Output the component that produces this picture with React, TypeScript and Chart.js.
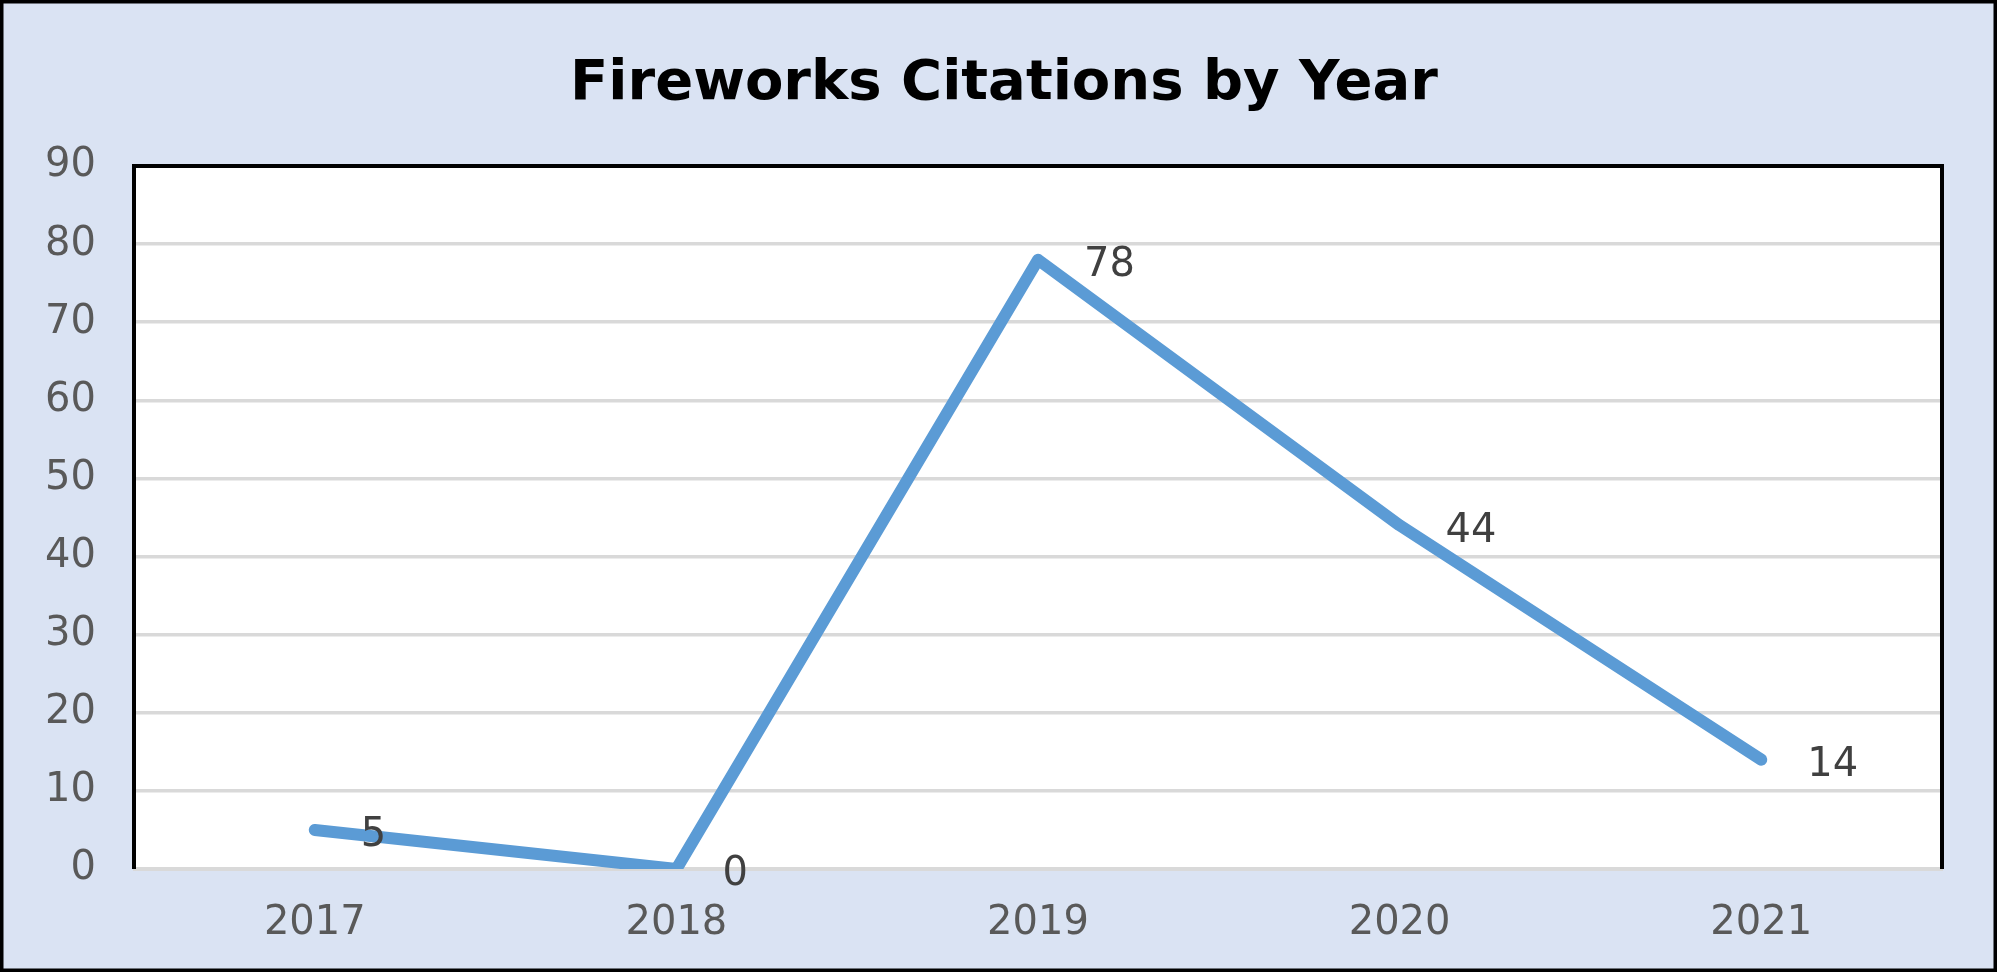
import React, { useEffect, useRef } from "react";
import { Chart, registerables } from "chart.js";

Chart.register(...registerables);

const categories = ["2017", "2018", "2019", "2020", "2021"];
const citations = [5, 0, 78, 44, 14];
const titleText = "Fireworks Citations by Year";
const yMax = 90;
const yStep = 10;

const W = 1997;
const H = 972;
const PLOT = { left: 134, top: 166, right: 1942, bottom: 869 };
const TICK_FONT = "'DejaVu Sans', sans-serif";

const frame = {
  id: "frame",
  beforeDraw(chart: any) {
    const ctx = chart.ctx;
    ctx.save();
    ctx.fillStyle = "#DAE3F3";
    ctx.fillRect(0, 0, W, H);
    const a = chart.chartArea;
    ctx.fillStyle = "#FFFFFF";
    ctx.fillRect(a.left, a.top, a.right - a.left, a.bottom - a.top);
    ctx.restore();
  },
  afterDraw(chart: any) {
    const ctx = chart.ctx;
    const a = chart.chartArea;
    ctx.save();
    ctx.strokeStyle = "#000000";
    ctx.lineWidth = 4;
    ctx.beginPath();
    ctx.moveTo(a.left, a.bottom);
    ctx.lineTo(a.left, a.top);
    ctx.lineTo(a.right, a.top);
    ctx.lineTo(a.right, a.bottom);
    ctx.stroke();
    ctx.lineWidth = 4;
    ctx.strokeRect(1.5, 1.5, W - 3, H - 3);
    ctx.fillStyle = "#000000";
    ctx.font = "bold 56px 'DejaVu Sans', sans-serif";
    ctx.textAlign = "center";
    ctx.textBaseline = "middle";
    ctx.fillText(titleText, 1004, 84);
    // data labels
    const meta = chart.getDatasetMeta(0);
    ctx.fillStyle = "#404040";
    ctx.font = "40px " + TICK_FONT;
    ctx.textAlign = "left";
    meta.data.forEach((pt: any, i: number) => {
      ctx.fillText(String(citations[i]), pt.x + 46, pt.y + 6);
    });
    ctx.restore();
  },
};

export default function App() {
  const ref = useRef<HTMLCanvasElement | null>(null);
  useEffect(() => {
    document.body.style.margin = "0";
    if (!ref.current) return;
    const chart = new Chart(ref.current, {
      type: "line",
      data: {
        labels: categories,
        datasets: [
          {
            data: citations,
            borderColor: "#5B9BD5",
            borderWidth: 12,
            borderCapStyle: "round",
            borderJoinStyle: "round",
            pointRadius: 0,
            tension: 0,
            fill: false,
            clip: 0,
          } as any,
        ],
      },
      options: {
        responsive: false,
        animation: false,
        devicePixelRatio: 1,
        layout: {
          padding: { top: PLOT.top, right: W - PLOT.right, left: 0, bottom: 0 },
        },
        plugins: {
          legend: { display: false },
          title: { display: false },
          tooltip: { enabled: false },
        },
        scales: {
          x: {
            offset: true,
            grid: { display: false, drawTicks: false },
            border: { display: true, color: "#D9D9D9", width: 3 },
            ticks: {
              color: "#595959",
              font: { family: TICK_FONT, size: 40 },
              padding: 31,
            },
            afterFit(scale: any) {
              scale.height = H - PLOT.bottom;
            },
          },
          y: {
            min: 0,
            max: yMax,
            grid: { color: "#D9D9D9", lineWidth: 3.5, drawTicks: false },
            border: { display: false },
            ticks: {
              stepSize: yStep,
              color: "#595959",
              font: { family: TICK_FONT, size: 40 },
              padding: 38,
            },
            afterFit(scale: any) {
              scale.width = PLOT.left;
            },
          },
        },
      },
      plugins: [frame],
    });
    return () => chart.destroy();
  }, []);
  return (
    <div style={{ width: W, height: H }}>
      <canvas ref={ref} width={W} height={H} style={{ width: W, height: H, display: "block" }} />
    </div>
  );
}
